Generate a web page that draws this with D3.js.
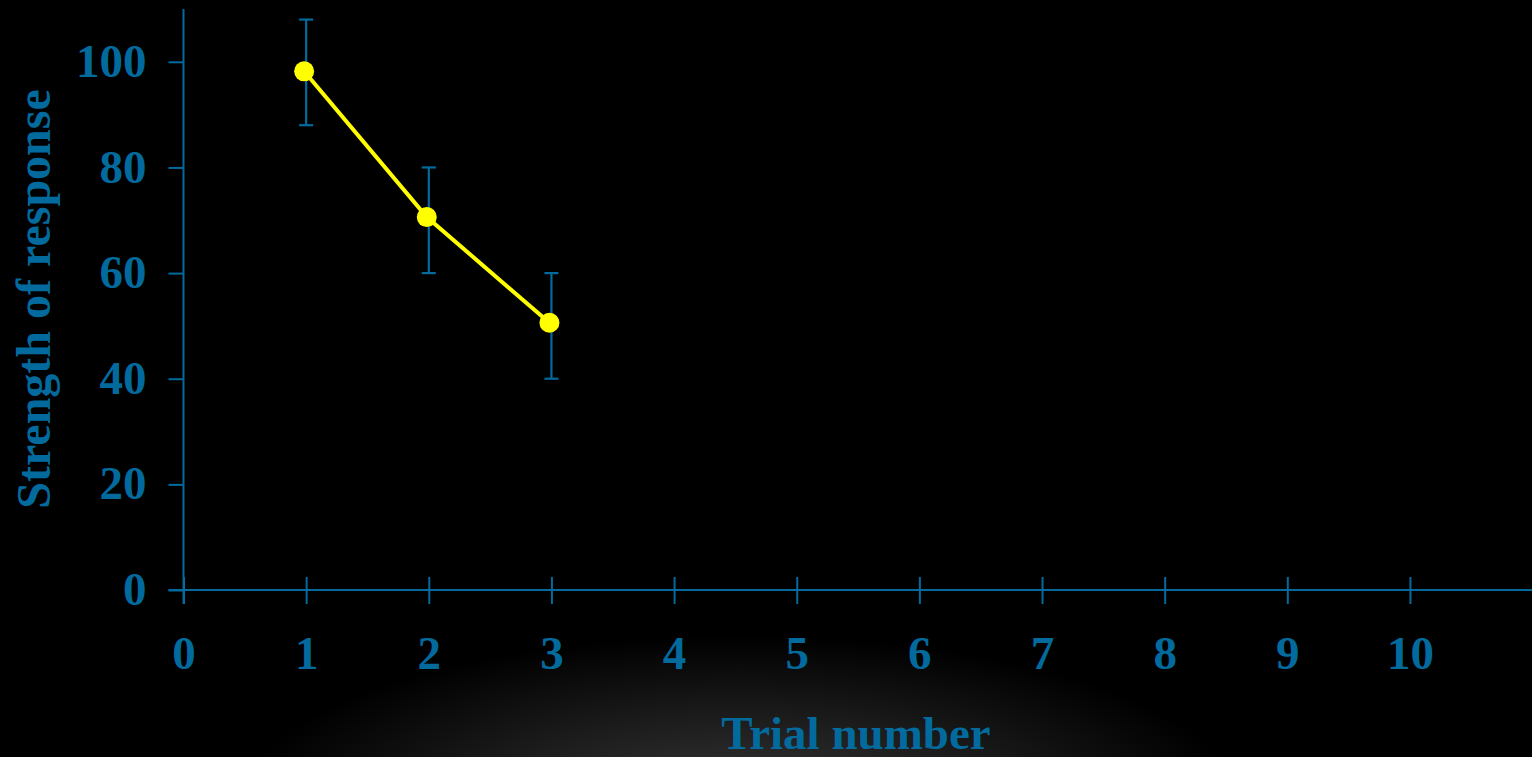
<!DOCTYPE html>
<html>
<head>
<meta charset="utf-8">
<script src="https://cdn.jsdelivr.net/npm/d3@7"></script>
<style>
  html, body { margin: 0; padding: 0; background: #000; overflow: hidden; }
  svg { display: block; }
</style>
</head>
<body>
<svg id="chart" width="1532" height="757"></svg>
<script>
// ---- data ----
const trials = [1, 2, 3];
const strength = [98.2, 70.6, 50.6];
const errLow = [88, 60, 40];
const errHigh = [108, 80, 60];
const xTickValues = [0, 1, 2, 3, 4, 5, 6, 7, 8, 9, 10, 11];
const xTickLabels = ["0", "1", "2", "3", "4", "5", "6", "7", "8", "9", "10", ""];
const yTickValues = [0, 20, 40, 60, 80, 100];
const xTitle = "Trial number";
const yTitle = "Strength of response";

// ---- styling ----
const W = 1532, H = 757;
const axisColor = "#036a9e";
const lineColor = "#ffff00";
const font = "'Liberation Serif', 'Times New Roman', Times, serif";

const svg = d3.select("#chart");

// background glow
const defs = svg.append("defs");
const grad = defs.append("radialGradient")
  .attr("id", "glow")
  .attr("gradientUnits", "userSpaceOnUse")
  .attr("cx", 740).attr("cy", 800).attr("r", 500)
  .attr("gradientTransform", "translate(740,800) scale(1,0.33) translate(-740,-800)");
grad.append("stop").attr("offset", "0%").attr("stop-color", "#363636");
grad.append("stop").attr("offset", "50%").attr("stop-color", "#1c1c1c");
grad.append("stop").attr("offset", "100%").attr("stop-color", "#000000");
svg.append("rect").attr("width", W).attr("height", H).attr("fill", "#000");
svg.append("rect").attr("width", W).attr("height", H).attr("fill", "url(#glow)");

// ---- scales ----
const x = d3.scaleLinear().domain([0, 11]).range([183.5, 1532.6]);
const y = d3.scaleLinear().domain([0, 110]).range([590, 9]);

// ---- axis lines ----
svg.append("line")
  .attr("x1", x(0)).attr("x2", x(0))
  .attr("y1", y(110)).attr("y2", y(0) + 14)
  .attr("stroke", axisColor).attr("stroke-width", 2);
svg.append("line")
  .attr("x1", x(0) - 15).attr("x2", W)
  .attr("y1", y(0)).attr("y2", y(0))
  .attr("stroke", axisColor).attr("stroke-width", 2);

// ---- x axis ----
const xAxis = d3.axisBottom(x)
  .tickValues(xTickValues)
  .tickFormat((d, i) => xTickLabels[i])
  .tickSize(14)
  .tickSizeOuter(0);
const gx = svg.append("g").attr("transform", `translate(0,${y(0)})`).call(xAxis);
gx.select(".domain").remove();
gx.selectAll(".tick line")
  .attr("y1", -13).attr("y2", 14)
  .attr("stroke", axisColor).attr("stroke-width", 2);
gx.selectAll(".tick text")
  .attr("y", 79).attr("dy", 0)
  .attr("fill", axisColor)
  .style("font-family", font).style("font-weight", "bold").style("font-size", "47px");

// ---- y axis ----
const yAxis = d3.axisLeft(y)
  .tickValues(yTickValues)
  .tickSize(15)
  .tickSizeOuter(0);
const gy = svg.append("g").attr("transform", `translate(${x(0)},0)`).call(yAxis);
gy.select(".domain").remove();
gy.selectAll(".tick line").attr("stroke", axisColor).attr("stroke-width", 2);
gy.selectAll(".tick text")
  .attr("x", -37).attr("dy", "0.31em")
  .attr("fill", axisColor)
  .style("font-family", font).style("font-weight", "bold").style("font-size", "47px");

// ---- titles ----
svg.append("text")
  .attr("x", 856).attr("y", 749)
  .attr("text-anchor", "middle")
  .attr("fill", axisColor)
  .style("font-family", font).style("font-weight", "bold").style("font-size", "47px")
  .text(xTitle);
svg.append("text")
  .attr("transform", "translate(50,299) rotate(-90)")
  .attr("text-anchor", "middle")
  .attr("fill", axisColor)
  .style("font-family", font).style("font-weight", "bold").style("font-size", "48px")
  .text(yTitle);

// ---- error bars ----
const data = trials.map((t, i) => ({ t, v: strength[i], lo: errLow[i], hi: errHigh[i] }));
const eb = svg.append("g").attr("stroke", axisColor).attr("stroke-width", 2.2);
eb.selectAll("line.v").data(data).join("line").attr("class", "v")
  .attr("x1", d => x(d.t)).attr("x2", d => x(d.t))
  .attr("y1", d => y(d.hi)).attr("y2", d => y(d.lo));
eb.selectAll("line.hi").data(data).join("line").attr("class", "hi")
  .attr("x1", d => x(d.t) - 7).attr("x2", d => x(d.t) + 7)
  .attr("y1", d => y(d.hi)).attr("y2", d => y(d.hi));
eb.selectAll("line.lo").data(data).join("line").attr("class", "lo")
  .attr("x1", d => x(d.t) - 7).attr("x2", d => x(d.t) + 7)
  .attr("y1", d => y(d.lo)).attr("y2", d => y(d.lo));

// ---- line & points ----
const lineGen = d3.line().x(d => x(d.t) - 2).y(d => y(d.v));
svg.append("path").datum(data)
  .attr("d", lineGen)
  .attr("fill", "none").attr("stroke", lineColor).attr("stroke-width", 4);
svg.selectAll("circle.pt").data(data).join("circle").attr("class", "pt")
  .attr("cx", d => x(d.t) - 2).attr("cy", d => y(d.v))
  .attr("r", 10).attr("fill", lineColor);
</script>
</body>
</html>
